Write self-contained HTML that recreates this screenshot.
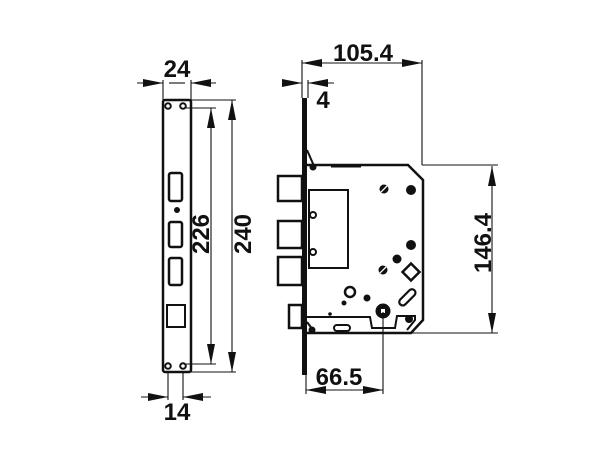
<!DOCTYPE html>
<html><head><style>
html,body{margin:0;padding:0;background:#fff;}
svg{display:block;}
text{font-family:"Liberation Sans",sans-serif;font-weight:bold;fill:#111;}
</style></head><body>
<svg width="611" height="450" viewBox="0 0 611 450" xmlns="http://www.w3.org/2000/svg">
<defs>
<marker id="a" viewBox="0 0 20 8" refX="20" refY="4" markerWidth="20" markerHeight="8" markerUnits="userSpaceOnUse" orient="auto"><path d="M0,0 L20,4 L0,8 Z" fill="#111"/></marker>
</defs>
<g stroke="#111" fill="none">
<rect x="163" y="100" width="28" height="272" rx="2" stroke-width="2.5"/>
<circle cx="168" cy="106" r="2.8" stroke-width="2"/><circle cx="183" cy="106" r="2.8" stroke-width="2"/>
<circle cx="168" cy="366" r="2.8" stroke-width="2"/><circle cx="183" cy="366" r="2.8" stroke-width="2"/>
<rect x="169" y="173" width="13" height="28" rx="2" stroke-width="2.5"/>
<rect x="169" y="222" width="13" height="25" rx="2" stroke-width="2.5"/>
<rect x="169" y="258" width="13" height="27" rx="2" stroke-width="2.5"/>
<rect x="167" y="305" width="18" height="22" stroke-width="2"/>
<circle cx="177" cy="210" r="3" fill="#111" stroke="none"/>
<g stroke-width="1.1">
<line x1="163" y1="80" x2="163" y2="100"/><line x1="191" y1="80" x2="191" y2="100"/>
<line x1="137" y1="83" x2="163" y2="83" marker-end="url(#a)"/><line x1="216" y1="83" x2="191" y2="83" marker-end="url(#a)"/>
<line x1="169" y1="83" x2="185" y2="83"/>
<line x1="186" y1="108" x2="216" y2="108"/><line x1="186" y1="364" x2="216" y2="364"/>
<line x1="211" y1="236" x2="211" y2="108" marker-end="url(#a)"/><line x1="211" y1="236" x2="211" y2="364" marker-end="url(#a)"/>
<line x1="191" y1="100" x2="236" y2="100"/><line x1="191" y1="372" x2="236" y2="372"/>
<line x1="232" y1="236" x2="232" y2="100" marker-end="url(#a)"/><line x1="232" y1="236" x2="232" y2="372" marker-end="url(#a)"/>
<line x1="168" y1="372" x2="168" y2="400"/><line x1="183" y1="372" x2="183" y2="400"/>
<line x1="141" y1="397" x2="168" y2="397" marker-end="url(#a)"/><line x1="211" y1="397" x2="183" y2="397" marker-end="url(#a)"/>
</g>
<rect x="302" y="98" width="5" height="277" fill="#111" stroke="none"/>
<path d="M307,150 L314,166 M307,322 L313,330" stroke-width="2"/>
<rect x="278" y="176" width="24" height="25" stroke-width="2.5"/>
<rect x="278" y="221" width="24" height="27" stroke-width="2.5"/>
<rect x="278" y="257" width="24" height="28" stroke-width="2.5"/>
<rect x="289" y="305" width="13" height="23" stroke-width="2.5"/>
<path d="M307,165 L408,165 L423,180 L423,320 L411,333 L307,333" stroke-width="2.5"/>
<line x1="331" y1="166" x2="361" y2="166" stroke-width="3"/>
<rect x="309" y="190" width="39" height="78" stroke-width="2"/>
<circle cx="313" cy="215" r="3" stroke-width="2" fill="#fff"/>
<circle cx="313" cy="252" r="3" stroke-width="2" fill="#fff"/>
<circle cx="313" cy="167" r="3.5" fill="#111" stroke="none"/>
<circle cx="312" cy="330" r="3.5" fill="#111" stroke="none"/>
<path d="M307,317 L370,317 L372,328 L395,328 L397,316 L415,316 L415,320 L407,330" stroke-width="2"/>
<circle cx="384" cy="189" r="4.5" fill="#111" stroke="none"/><line x1="381" y1="192" x2="387" y2="186" stroke="#fff" stroke-width="1.3"/>
<circle cx="383" cy="270" r="4.5" fill="#111" stroke="none"/><line x1="380" y1="273" x2="386" y2="267" stroke="#fff" stroke-width="1.3"/>
<circle cx="411" cy="190" r="5" fill="#111" stroke="none"/>
<circle cx="411" cy="245" r="5" fill="#111" stroke="none"/>
<circle cx="397" cy="259" r="4.5" fill="#111" stroke="none"/>
<rect x="405" y="266" width="12" height="12" transform="rotate(45 411 272)" stroke-width="2.5"/>
<rect x="397" y="294" width="20" height="7" rx="3.5" transform="rotate(-45 407 297)" stroke-width="2.2"/>
<circle cx="350" cy="292" r="5" stroke-width="2.5"/>
<circle cx="344" cy="303" r="2.5" fill="#111" stroke="none"/>
<circle cx="367" cy="298" r="3.5" fill="#111" stroke="none"/>
<circle cx="330" cy="314" r="1.8" fill="#111" stroke="none"/>
<rect x="334" y="325" width="16" height="6" rx="3" stroke-width="2"/>
<circle cx="383" cy="311" r="7.5" fill="#111" stroke="none"/>
<rect x="381" y="309" width="4" height="4" fill="#fff" stroke="none"/>
<circle cx="409" cy="319" r="4" fill="#111" stroke="none"/>
<g stroke-width="1.1">
<line x1="302" y1="60" x2="302" y2="98"/><line x1="422" y1="60" x2="422" y2="165"/>
<line x1="362" y1="63" x2="302" y2="63" marker-end="url(#a)"/><line x1="362" y1="63" x2="422" y2="63" marker-end="url(#a)"/>
<line x1="308" y1="80" x2="308" y2="98"/>
<line x1="282" y1="83" x2="302" y2="83" marker-end="url(#a)"/><line x1="334" y1="83" x2="308" y2="83" marker-end="url(#a)"/>
<line x1="422" y1="165" x2="498" y2="165"/><line x1="380" y1="333" x2="498" y2="333"/>
<line x1="492" y1="250" x2="492" y2="166" marker-end="url(#a)"/><line x1="492" y1="250" x2="492" y2="333" marker-end="url(#a)"/>
<line x1="306" y1="335" x2="306" y2="394"/><line x1="383" y1="312" x2="383" y2="394"/>
<line x1="345" y1="390" x2="306" y2="390" marker-end="url(#a)"/><line x1="345" y1="390" x2="383" y2="390" marker-end="url(#a)"/>
</g>
</g>
<text x="177" y="77" font-size="24" text-anchor="middle">24</text>
<text x="177" y="420" font-size="24" text-anchor="middle">14</text>
<text transform="translate(209,234) rotate(-90)" font-size="24" text-anchor="middle">226</text>
<text transform="translate(251,234) rotate(-90)" font-size="24" text-anchor="middle">240</text>
<text x="363" y="61" font-size="24" text-anchor="middle">105.4</text>
<text x="323" y="108" font-size="24" text-anchor="middle">4</text>
<text transform="translate(491,243) rotate(-90)" font-size="24" text-anchor="middle">146.4</text>
<text x="339" y="385" font-size="24" text-anchor="middle">66.5</text>
</svg>
</body></html>
